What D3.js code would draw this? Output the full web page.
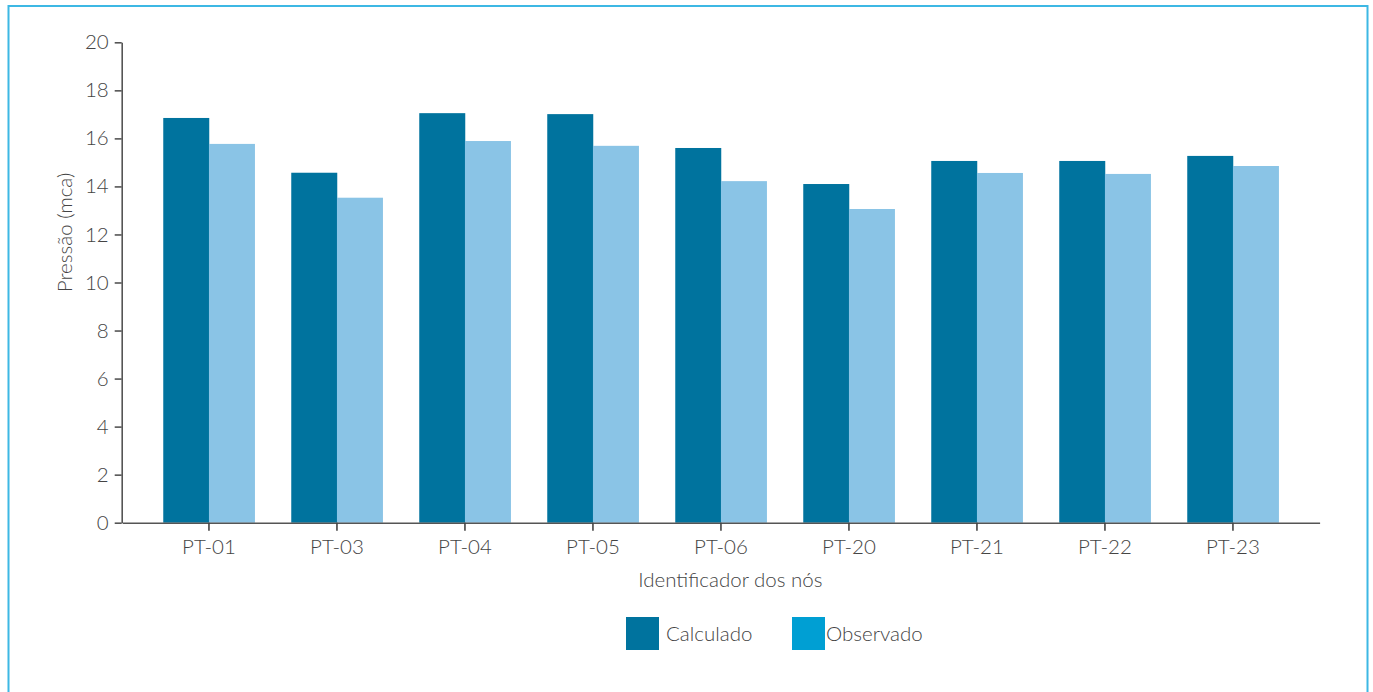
<!DOCTYPE html>
<html>
<head>
<meta charset="utf-8">
<script src="https://cdn.jsdelivr.net/npm/d3@7"></script>
<style>
  html, body { margin: 0; padding: 0; background: #fff; }
  svg { display: block; }
  text { font-family: Lato, "Open Sans", sans-serif; font-weight: 300; fill: #444; }
</style>
</head>
<body>
<svg id="chart" width="1373" height="692"></svg>
<script>
// Pressure per network node: calculated vs observed (mca)
const nodes = ["PT-01", "PT-03", "PT-04", "PT-05", "PT-06", "PT-20", "PT-21", "PT-22", "PT-23"];
const calculado = [16.85, 14.57, 17.05, 17.01, 15.60, 14.10, 15.06, 15.06, 15.27];
const observado = [15.77, 13.53, 15.89, 15.69, 14.22, 13.06, 14.56, 14.52, 14.85];
const seriesNames = ["Calculado", "Observado"];
const yTicks = [0, 2, 4, 6, 8, 10, 12, 14, 16, 18, 20];

const barColors = { Calculado: "#00739e", Observado: "#8ac4e6" };
const legendColors = { Calculado: "#00739e", Observado: "#009fd3" };

const svg = d3.select("#chart");
const fontSize = "20.5px";

// frame
svg.append("rect")
  .attr("x", 8.5).attr("y", 6)
  .attr("width", 1359).attr("height", 700)
  .attr("fill", "none")
  .attr("stroke", "#3db8e4")
  .attr("stroke-width", 2);

const x0 = 121.7, x1 = 1319, yTop = 42.3, yBottom = 522.7;

const x = d3.scaleBand()
  .domain(nodes)
  .range([x0 + 0.6, x1 + 0.6])
  .paddingInner(0.286)
  .paddingOuter(0.32);

const xs = d3.scaleBand()
  .domain(seriesNames)
  .range([0, x.bandwidth()]);

const y = d3.scaleLinear().domain([0, 20]).range([yBottom, yTop]);

const rows = nodes.map((n, i) => ({ node: n, Calculado: calculado[i], Observado: observado[i] }));

// bars
const groups = svg.append("g").selectAll("g")
  .data(rows)
  .join("g")
  .attr("transform", d => `translate(${x(d.node)},0)`);

groups.selectAll("rect")
  .data(d => seriesNames.map(s => ({ s, v: d[s] })))
  .join("rect")
  .attr("x", d => xs(d.s))
  .attr("width", xs.bandwidth() + 0.3)
  .attr("y", d => y(d.v))
  .attr("height", d => y(0) - y(d.v))
  .attr("fill", d => barColors[d.s]);

// y axis
const yAxis = svg.append("g")
  .attr("transform", `translate(${x0},0)`)
  .call(d3.axisLeft(y).tickValues(yTicks).tickSize(7).tickPadding(6).tickSizeOuter(0));
yAxis.select(".domain").attr("stroke", "#555").attr("stroke-width", 1.6);
yAxis.selectAll(".tick line").attr("stroke", "#555").attr("stroke-width", 1.6);
yAxis.selectAll(".tick text")
  .style("font-size", fontSize)
  .attr("fill", "#444");

// x axis
const xAxis = svg.append("g")
  .attr("transform", `translate(0,${yBottom})`)
  .call(d3.axisBottom(x).tickSize(8).tickPadding(9).tickSizeOuter(0));
xAxis.select(".domain").attr("stroke", "#555").attr("stroke-width", 1.6);
xAxis.selectAll(".tick line").attr("stroke", "#444").attr("stroke-width", 1.6);
xAxis.selectAll(".tick text")
  .style("font-size", fontSize)
  .attr("fill", "#444");

// axis titles
svg.append("text")
  .attr("transform", `translate(72,${(yTop + yBottom) / 2 - 50}) rotate(-90)`)
  .attr("text-anchor", "middle")
  .style("font-size", fontSize)
  .text("Pressão (mca)");

svg.append("text")
  .attr("x", (x0 + x1) / 2 + 10)
  .attr("y", 587)
  .attr("text-anchor", "middle")
  .style("font-size", fontSize)
  .text("Identificador dos nós");

// legend
const legendItems = [
  { name: "Calculado", boxX: 626, textX: 666 },
  { name: "Observado", boxX: 792, textX: 826 }
];
const legend = svg.append("g").selectAll("g")
  .data(legendItems)
  .join("g");
legend.append("rect")
  .attr("x", d => d.boxX).attr("y", 617)
  .attr("width", 33).attr("height", 33)
  .attr("fill", d => legendColors[d.name]);
legend.append("text")
  .attr("x", d => d.textX)
  .attr("y", 640.5)
  .style("font-size", fontSize)
  .text(d => d.name);
</script>
</body>
</html>
